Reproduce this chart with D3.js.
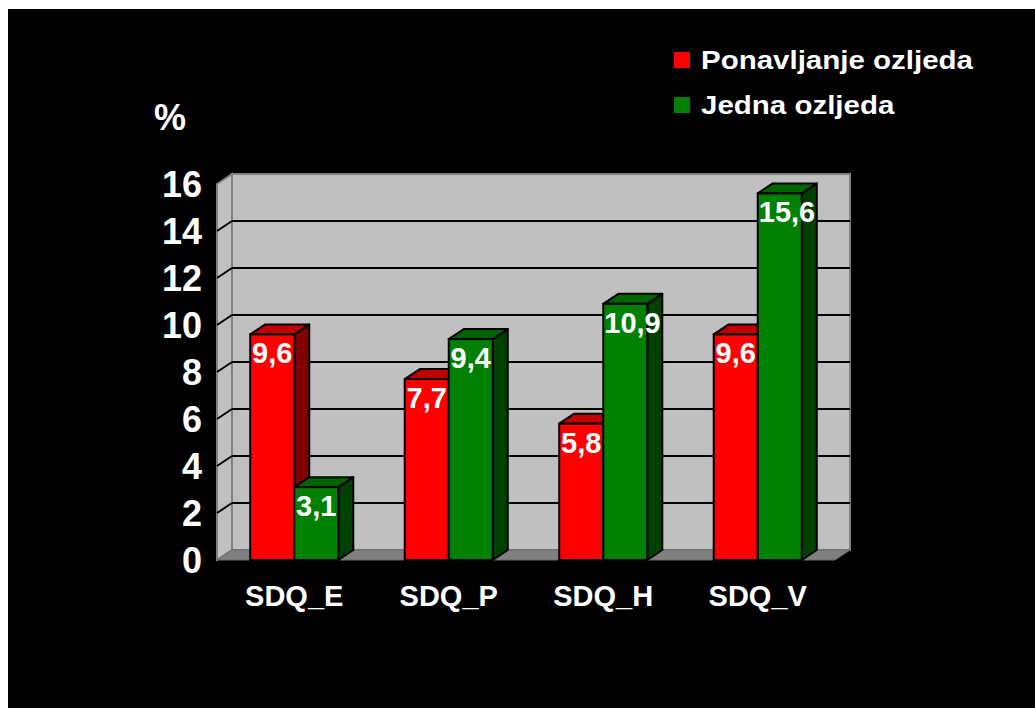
<!DOCTYPE html>
<html>
<head>
<meta charset="utf-8">
<script src="https://cdnjs.cloudflare.com/ajax/libs/d3/7.8.5/d3.min.js"></script>
<style>
  html, body { margin: 0; padding: 0; background: #fff; }
  svg { display: block; font-family: Arial, 'Liberation Sans', sans-serif; font-weight: bold; }
</style>
</head>
<body>
<div class="js-chart"></div>
<script>
var categories = ['SDQ_E', 'SDQ_P', 'SDQ_H', 'SDQ_V'];
var seriesNames = ['Ponavljanje ozljeda', 'Jedna ozljeda'];
var repeatValues = [9.6, 7.7, 5.8, 9.6];
var singleValues = [3.1, 9.4, 10.9, 15.6];
var tickValues = [0, 2, 4, 6, 8, 10, 12, 14, 16];

var W = 1035, H = 708;
var depthX = 15, depthY = 10;

var colors = {
  'Ponavljanje ozljeda': { front: '#ff0000', top: '#c00000', side: '#800000' },
  'Jedna ozljeda': { front: '#008000', top: '#006400', side: '#004000' }
};

var svg = d3.select('.js-chart')
    .append('svg')
    .attr('width', W)
    .attr('height', H);

svg.append('rect')
    .attr('x', 8).attr('y', 9)
    .attr('width', W - 8).attr('height', H - 9)
    .attr('fill', '#000');

// scales on the front plane
var y = d3.scaleLinear().domain([0, 16]).range([560, 184]);
var x0 = d3.scaleBand()
    .domain(categories)
    .range([217, 835])
    .paddingInner(0.43)
    .paddingOuter(0.215);
var x1 = d3.scaleBand()
    .domain(seriesNames)
    .range([0, x0.bandwidth()]);

var left = x0.range()[0], right = x0.range()[1];
var y0 = y(0), yTop = y(16);

// back wall
svg.append('rect')
    .attr('x', left + depthX).attr('y', yTop - depthY)
    .attr('width', right - left).attr('height', y0 - yTop)
    .attr('fill', '#c0c0c0')
    .attr('stroke', '#808080')
    .attr('stroke-width', 2);

// side wall
svg.append('polygon')
    .attr('points', [[left, yTop], [left + depthX, yTop - depthY], [left + depthX, y0 - depthY], [left, y0]].join(' '))
    .attr('fill', '#c0c0c0')
    .attr('stroke', '#808080')
    .attr('stroke-width', 2);

// floor
svg.append('polygon')
    .attr('points', [[left, y0], [left + depthX, y0 - depthY], [right + depthX, y0 - depthY], [right, y0]].join(' '))
    .attr('fill', '#808080')
    .attr('stroke', '#6a6a6a')
    .attr('stroke-width', 1);

// gridlines on back and side walls
var grid = tickValues.filter(function(d) { return d > 0 && d < 16; });
svg.selectAll('.grid-back')
    .data(grid)
    .enter()
    .append('line')
        .attr('x1', left + depthX).attr('x2', right + depthX)
        .attr('y1', function(d) { return y(d) - depthY; })
        .attr('y2', function(d) { return y(d) - depthY; })
        .attr('stroke', '#000')
        .attr('stroke-width', 2);
svg.selectAll('.grid-side')
    .data(grid)
    .enter()
    .append('line')
        .attr('x1', left).attr('x2', left + depthX)
        .attr('y1', function(d) { return y(d); })
        .attr('y2', function(d) { return y(d) - depthY; })
        .attr('stroke', '#000')
        .attr('stroke-width', 2);

// y tick labels
svg.selectAll('.tick-label')
    .data(tickValues)
    .enter()
    .append('text')
        .attr('x', 202)
        .attr('y', function(d) { return y(d); })
        .attr('dy', '0.36em')
        .attr('text-anchor', 'end')
        .attr('fill', '#fff')
        .style('font-size', '36px')
        .text(function(d) { return d; });

svg.append('text')
    .attr('x', 170).attr('y', 130)
    .attr('text-anchor', 'middle')
    .attr('fill', '#fff')
    .style('font-size', '36px')
    .text('%');

// bars
var bars = [];
categories.forEach(function(c, i) {
  bars.push({ cat: c, series: seriesNames[0], value: repeatValues[i] });
  bars.push({ cat: c, series: seriesNames[1], value: singleValues[i] });
});

var bw = x1.bandwidth();
var barG = svg.selectAll('.bar')
    .data(bars)
    .enter()
    .append('g');

barG.each(function(d) {
  var g = d3.select(this);
  var bx = x0(d.cat) + x1(d.series);
  var by = y(d.value);
  var col = colors[d.series];

  g.append('polygon')
      .attr('points', [[bx + bw, by], [bx + bw + depthX, by - depthY], [bx + bw + depthX, y0 - depthY], [bx + bw, y0]].join(' '))
      .attr('fill', col.side)
      .attr('stroke', '#000')
      .attr('stroke-width', 2)
      .attr('stroke-linejoin', 'round');
  g.append('polygon')
      .attr('points', [[bx, by], [bx + depthX, by - depthY], [bx + bw + depthX, by - depthY], [bx + bw, by]].join(' '))
      .attr('fill', col.top)
      .attr('stroke', '#000')
      .attr('stroke-width', 2)
      .attr('stroke-linejoin', 'round');
  g.append('rect')
      .attr('x', bx).attr('y', by)
      .attr('width', bw).attr('height', y0 - by)
      .attr('fill', col.front)
      .attr('stroke', '#000')
      .attr('stroke-width', 2);

  var label = g.append('text')
      .attr('y', by + 29)
      .attr('fill', '#fff')
      .style('font-size', '29px')
      .text(String(d.value).replace('.', ','));
  var tw = label.node().getComputedTextLength();
  label.attr('x', Math.max(bx + 1, bx + bw / 2 - tw / 2));
});

// category labels
svg.selectAll('.cat-label')
    .data(categories)
    .enter()
    .append('text')
        .attr('x', function(d) { return x0(d) + x0.bandwidth() / 2; })
        .attr('y', 606)
        .attr('text-anchor', 'middle')
        .attr('fill', '#fff')
        .style('font-size', '29px')
        .text(function(d) { return d; });

// legend
var legend = svg.selectAll('.legend')
    .data(seriesNames)
    .enter()
    .append('g')
        .attr('transform', function(d, i) { return 'translate(674,' + (52 + i * 45) + ')'; });

legend.append('rect')
    .attr('width', 16).attr('height', 16)
    .attr('fill', function(d) { return colors[d].front; });

legend.append('text')
    .attr('transform', 'translate(27,17) scale(1.18,1)')
    .attr('fill', '#fff')
    .style('font-size', '25px')
    .text(function(d) { return d; });
</script>
</body>
</html>
